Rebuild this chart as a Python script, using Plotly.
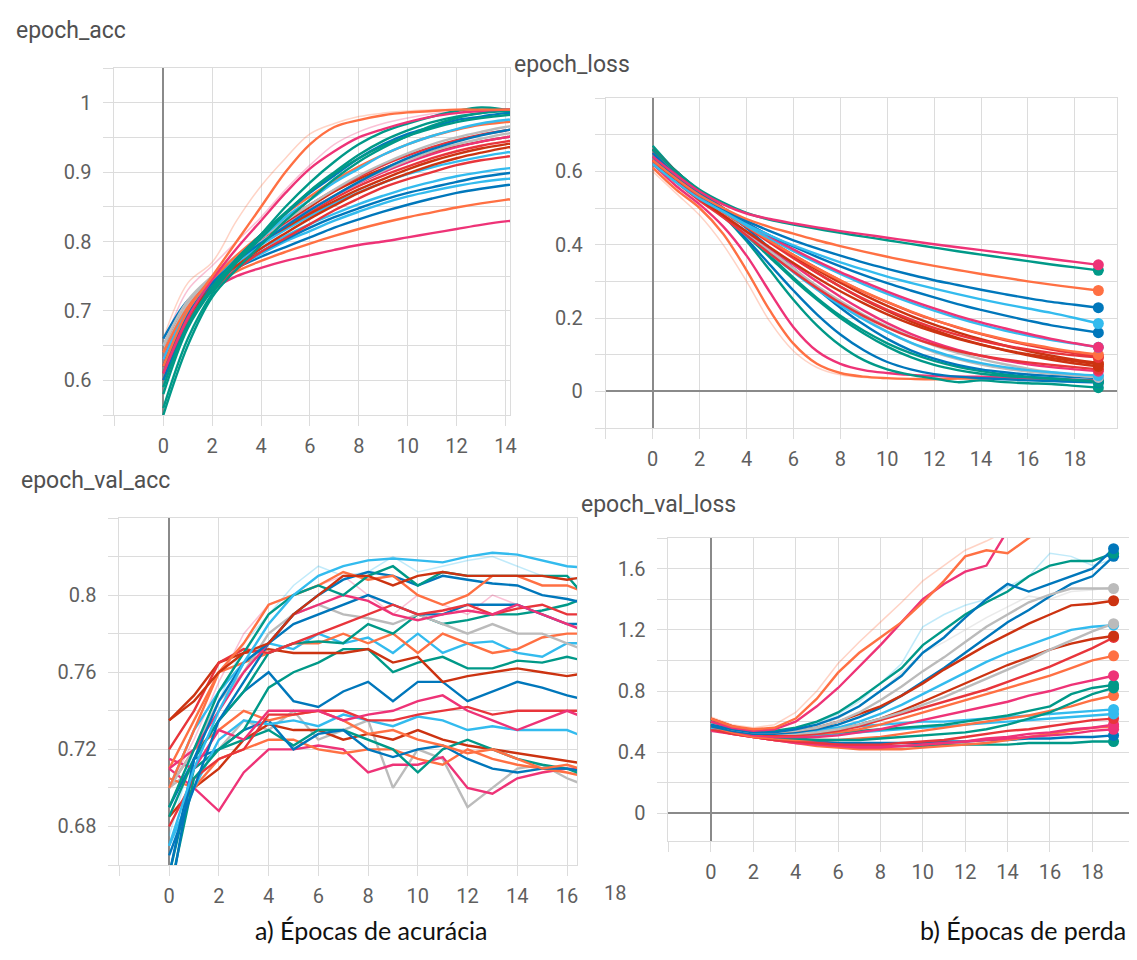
import plotly.graph_objects as go

W, H = 1137, 960

ORANGE = "#ff7043"
BLUE = "#0077bb"
DARKRED = "#cc3311"
LIGHTBLUE = "#33bbee"
PINK = "#ee3377"
TEAL = "#009988"
GRAY = "#bbbbbb"
RED = "#e8353b"
GRID = "#dcdcdc"
ZERO = "#8a8a8a"
TICKC = "#5f5f5f"

# ---------------- epochs ----------------
epochs_acc = [0, 1, 2, 3, 4, 5, 6, 7, 8, 9, 10, 11, 12, 13, 14, 15]
epochs_loss = [0, 1, 2, 3, 4, 5, 6, 7, 8, 9, 10, 11, 12, 13, 14, 15, 16, 17, 18, 19]
epochs_val_acc = [0, 1, 2, 3, 4, 5, 6, 7, 8, 9, 10, 11, 12, 13, 14, 15, 16, 17]
epochs_val_loss = [0, 1, 2, 3, 4, 5, 6, 7, 8, 9, 10, 11, 12, 13, 14, 15, 16, 17, 18, 19]

# ---------------- epoch_acc ----------------
acc_orange_fast = [0.62, 0.70, 0.75, 0.80, 0.85, 0.90, 0.94, 0.965, 0.975, 0.982, 0.986, 0.988, 0.99, 0.99, 0.99, 0.99]
acc_pink_fast = [0.61, 0.69, 0.745, 0.79, 0.83, 0.87, 0.905, 0.93, 0.95, 0.962, 0.972, 0.98, 0.985, 0.988, 0.99, 0.99]
acc_teal_1 = [0.56, 0.66, 0.725, 0.77, 0.81, 0.85, 0.885, 0.915, 0.94, 0.958, 0.97, 0.98, 0.988, 0.993, 0.99, 0.985]
acc_teal_2 = [0.55, 0.65, 0.72, 0.76, 0.795, 0.83, 0.86, 0.89, 0.915, 0.935, 0.952, 0.967, 0.978, 0.985, 0.99, 0.99]
acc_teal_3 = [0.58, 0.675, 0.73, 0.77, 0.805, 0.84, 0.873, 0.90, 0.925, 0.945, 0.96, 0.972, 0.98, 0.985, 0.988, 0.988]
acc_teal_4 = [0.59, 0.68, 0.735, 0.775, 0.81, 0.842, 0.872, 0.898, 0.92, 0.938, 0.952, 0.963, 0.972, 0.978, 0.982, 0.984]
acc_blue_1 = [0.60, 0.68, 0.735, 0.775, 0.81, 0.84, 0.87, 0.895, 0.92, 0.94, 0.955, 0.965, 0.975, 0.98, 0.985, 0.985]
acc_blue_4 = [0.62, 0.695, 0.74, 0.772, 0.798, 0.822, 0.845, 0.866, 0.886, 0.904, 0.92, 0.933, 0.944, 0.953, 0.96, 0.965]
acc_lightblue_1 = [0.63, 0.70, 0.74, 0.775, 0.805, 0.835, 0.86, 0.885, 0.905, 0.925, 0.94, 0.952, 0.962, 0.97, 0.975, 0.978]
acc_orange_3 = [0.64, 0.705, 0.745, 0.78, 0.81, 0.84, 0.865, 0.888, 0.908, 0.925, 0.94, 0.952, 0.961, 0.968, 0.972, 0.975]
acc_gray_1 = [0.64, 0.71, 0.75, 0.78, 0.805, 0.83, 0.853, 0.875, 0.895, 0.912, 0.927, 0.94, 0.95, 0.958, 0.965, 0.97]
acc_gray_2 = [0.65, 0.715, 0.75, 0.778, 0.80, 0.823, 0.845, 0.866, 0.885, 0.902, 0.917, 0.93, 0.94, 0.948, 0.955, 0.96]
acc_red_3 = [0.62, 0.70, 0.745, 0.778, 0.805, 0.83, 0.853, 0.874, 0.893, 0.91, 0.924, 0.936, 0.946, 0.954, 0.96, 0.965]
acc_pink_3 = [0.63, 0.705, 0.745, 0.775, 0.80, 0.824, 0.846, 0.866, 0.884, 0.90, 0.914, 0.926, 0.936, 0.944, 0.95, 0.955]
acc_darkred_1 = [0.62, 0.695, 0.74, 0.772, 0.80, 0.826, 0.85, 0.872, 0.89, 0.905, 0.918, 0.928, 0.937, 0.944, 0.95, 0.955]
acc_darkred_3 = [0.64, 0.71, 0.748, 0.777, 0.80, 0.82, 0.84, 0.858, 0.875, 0.89, 0.904, 0.916, 0.926, 0.934, 0.94, 0.945]
acc_red_1 = [0.63, 0.70, 0.742, 0.775, 0.80, 0.822, 0.842, 0.862, 0.88, 0.895, 0.908, 0.92, 0.93, 0.938, 0.944, 0.95]
acc_darkred_2 = [0.61, 0.69, 0.735, 0.765, 0.79, 0.812, 0.833, 0.852, 0.87, 0.885, 0.898, 0.91, 0.92, 0.928, 0.935, 0.94]
acc_lightblue_3 = [0.61, 0.69, 0.738, 0.77, 0.795, 0.817, 0.837, 0.855, 0.871, 0.885, 0.897, 0.907, 0.915, 0.922, 0.928, 0.932]
acc_red_2 = [0.60, 0.685, 0.73, 0.76, 0.785, 0.805, 0.825, 0.845, 0.862, 0.878, 0.89, 0.90, 0.91, 0.917, 0.922, 0.926]
acc_lightblue_4 = [0.65, 0.712, 0.745, 0.77, 0.79, 0.808, 0.825, 0.84, 0.854, 0.866, 0.877, 0.886, 0.894, 0.90, 0.905, 0.908]
acc_blue_2 = [0.64, 0.70, 0.738, 0.765, 0.785, 0.803, 0.82, 0.835, 0.848, 0.86, 0.87, 0.878, 0.886, 0.893, 0.898, 0.902]
acc_lightblue_2 = [0.62, 0.695, 0.735, 0.762, 0.782, 0.80, 0.815, 0.83, 0.843, 0.855, 0.865, 0.873, 0.88, 0.886, 0.89, 0.893]
acc_blue_3 = [0.66, 0.715, 0.742, 0.762, 0.778, 0.792, 0.806, 0.82, 0.832, 0.843, 0.853, 0.862, 0.87, 0.876, 0.881, 0.885]
acc_orange_2 = [0.63, 0.70, 0.735, 0.757, 0.772, 0.785, 0.797, 0.808, 0.818, 0.827, 0.835, 0.842, 0.849, 0.855, 0.86, 0.864]
acc_pink_low = [0.62, 0.695, 0.73, 0.75, 0.762, 0.772, 0.78, 0.788, 0.795, 0.80, 0.806, 0.812, 0.818, 0.824, 0.829, 0.832]
acc_pale_orange = [0.66, 0.74, 0.77, 0.83, 0.88, 0.92, 0.955, 0.97, 0.98, 0.985, 0.988, 0.99, 0.99, 0.99, 0.99, 0.99]
acc_pale_pink = [0.65, 0.73, 0.765, 0.80, 0.835, 0.875, 0.91, 0.94, 0.958, 0.97, 0.978, 0.984, 0.988, 0.99, 0.99, 0.99]

# ---------------- epoch_loss ----------------
loss_pink_slow = [0.64, 0.59, 0.545, 0.51, 0.485, 0.47, 0.458, 0.447, 0.437, 0.428, 0.419, 0.41, 0.401, 0.393, 0.385, 0.377, 0.369, 0.361, 0.353, 0.345]
loss_teal_slow = [0.66, 0.60, 0.55, 0.515, 0.487, 0.468, 0.455, 0.443, 0.432, 0.422, 0.412, 0.402, 0.392, 0.382, 0.373, 0.364, 0.355, 0.346, 0.338, 0.33]
loss_orange_slow = [0.63, 0.58, 0.535, 0.50, 0.47, 0.448, 0.43, 0.412, 0.396, 0.381, 0.367, 0.354, 0.342, 0.331, 0.32, 0.31, 0.30, 0.291, 0.283, 0.275]
loss_blue_mid = [0.65, 0.59, 0.54, 0.50, 0.465, 0.437, 0.412, 0.39, 0.37, 0.351, 0.334, 0.318, 0.303, 0.29, 0.277, 0.265, 0.254, 0.244, 0.236, 0.228]
loss_lightblue_mid = [0.62, 0.57, 0.525, 0.49, 0.455, 0.425, 0.398, 0.374, 0.352, 0.332, 0.313, 0.296, 0.28, 0.265, 0.251, 0.238, 0.226, 0.214, 0.20, 0.185]
loss_blue_2 = [0.64, 0.585, 0.535, 0.495, 0.458, 0.425, 0.395, 0.367, 0.341, 0.317, 0.295, 0.275, 0.256, 0.238, 0.222, 0.207, 0.193, 0.18, 0.17, 0.16]
loss_pink_2 = [0.65, 0.59, 0.54, 0.50, 0.46, 0.422, 0.387, 0.355, 0.325, 0.298, 0.272, 0.248, 0.226, 0.206, 0.188, 0.172, 0.157, 0.143, 0.131, 0.12]
loss_lightblue_3 = [0.64, 0.585, 0.535, 0.492, 0.452, 0.416, 0.382, 0.35, 0.32, 0.292, 0.266, 0.242, 0.22, 0.20, 0.182, 0.166, 0.152, 0.14, 0.13, 0.12]
loss_orange_3 = [0.64, 0.585, 0.535, 0.49, 0.45, 0.41, 0.372, 0.336, 0.303, 0.272, 0.244, 0.218, 0.195, 0.175, 0.157, 0.142, 0.129, 0.118, 0.108, 0.10]
loss_red_1 = [0.63, 0.58, 0.53, 0.49, 0.45, 0.41, 0.372, 0.336, 0.302, 0.271, 0.243, 0.217, 0.194, 0.174, 0.156, 0.14, 0.126, 0.114, 0.104, 0.095]
loss_red_3 = [0.64, 0.585, 0.535, 0.49, 0.448, 0.405, 0.363, 0.323, 0.286, 0.252, 0.222, 0.196, 0.173, 0.154, 0.138, 0.125, 0.114, 0.105, 0.098, 0.092]
loss_darkred_1 = [0.65, 0.59, 0.54, 0.495, 0.452, 0.41, 0.37, 0.332, 0.296, 0.263, 0.233, 0.206, 0.182, 0.161, 0.142, 0.125, 0.11, 0.097, 0.086, 0.077]
loss_darkred_3 = [0.63, 0.575, 0.525, 0.48, 0.436, 0.392, 0.35, 0.31, 0.273, 0.24, 0.21, 0.184, 0.162, 0.143, 0.127, 0.113, 0.101, 0.091, 0.082, 0.074]
loss_darkred_2 = [0.66, 0.60, 0.545, 0.50, 0.455, 0.41, 0.366, 0.324, 0.285, 0.25, 0.219, 0.191, 0.167, 0.146, 0.128, 0.112, 0.098, 0.086, 0.076, 0.068]
loss_red_2 = [0.62, 0.57, 0.52, 0.475, 0.425, 0.375, 0.327, 0.282, 0.241, 0.205, 0.174, 0.148, 0.127, 0.11, 0.097, 0.087, 0.079, 0.072, 0.066, 0.06]
loss_pink_3 = [0.63, 0.575, 0.525, 0.48, 0.435, 0.39, 0.345, 0.30, 0.258, 0.22, 0.186, 0.157, 0.133, 0.113, 0.097, 0.084, 0.074, 0.066, 0.06, 0.055]
loss_lightblue_2 = [0.63, 0.575, 0.525, 0.475, 0.425, 0.375, 0.325, 0.278, 0.235, 0.196, 0.162, 0.133, 0.11, 0.091, 0.077, 0.066, 0.058, 0.052, 0.047, 0.043]
loss_gray = [0.64, 0.58, 0.525, 0.48, 0.43, 0.38, 0.332, 0.287, 0.246, 0.209, 0.177, 0.149, 0.125, 0.105, 0.088, 0.074, 0.062, 0.052, 0.044, 0.038]
loss_gray_2 = [0.65, 0.59, 0.535, 0.485, 0.435, 0.385, 0.335, 0.287, 0.242, 0.20, 0.163, 0.132, 0.107, 0.088, 0.073, 0.062, 0.054, 0.048, 0.043, 0.04]
loss_blue_3 = [0.66, 0.60, 0.545, 0.495, 0.445, 0.39, 0.335, 0.28, 0.228, 0.182, 0.143, 0.112, 0.089, 0.072, 0.06, 0.052, 0.046, 0.042, 0.039, 0.036]
loss_teal_2 = [0.65, 0.59, 0.535, 0.48, 0.425, 0.365, 0.305, 0.25, 0.20, 0.158, 0.122, 0.093, 0.072, 0.058, 0.048, 0.042, 0.038, 0.035, 0.031, 0.028]
loss_teal_3 = [0.66, 0.60, 0.545, 0.49, 0.43, 0.37, 0.31, 0.255, 0.206, 0.165, 0.131, 0.104, 0.083, 0.067, 0.055, 0.046, 0.04, 0.035, 0.03, 0.025]
loss_blue_fast = [0.66, 0.60, 0.54, 0.48, 0.415, 0.345, 0.275, 0.21, 0.155, 0.112, 0.08, 0.06, 0.047, 0.04, 0.036, 0.033, 0.03, 0.028, 0.026, 0.024]
loss_teal_fast = [0.67, 0.60, 0.54, 0.48, 0.41, 0.33, 0.25, 0.18, 0.125, 0.085, 0.06, 0.045, 0.035, 0.025, 0.03, 0.025, 0.022, 0.02, 0.015, 0.01]
loss_pink_fast = [0.62, 0.56, 0.51, 0.45, 0.37, 0.27, 0.175, 0.11, 0.075, 0.058, 0.05, 0.045, 0.042, 0.04, 0.04, 0.038, 0.036, 0.034, 0.032, 0.03]
loss_orange_fast = [0.61, 0.55, 0.50, 0.43, 0.33, 0.22, 0.13, 0.075, 0.05, 0.04, 0.036, 0.034, 0.033, 0.035, 0.035, 0.034, 0.032, 0.03, 0.028, 0.025]
loss_pale_orange = [0.60, 0.54, 0.48, 0.40, 0.30, 0.19, 0.11, 0.065, 0.045, 0.038, 0.035, 0.034, 0.034, 0.035, 0.034, 0.033, 0.031, 0.03, 0.028, 0.026]

# ---------------- epoch_val_acc ----------------
vacc_lightblue_top = [0.67, 0.71, 0.74, 0.765, 0.785, 0.80, 0.81, 0.815, 0.818, 0.819, 0.818, 0.817, 0.82, 0.822, 0.821, 0.818, 0.815, 0.814]
vacc_red_top = [0.735, 0.745, 0.76, 0.77, 0.775, 0.79, 0.80, 0.81, 0.81, 0.805, 0.81, 0.812, 0.81, 0.81, 0.81, 0.81, 0.808, 0.81]
vacc_teal_top = [0.69, 0.72, 0.75, 0.77, 0.79, 0.80, 0.805, 0.80, 0.81, 0.815, 0.805, 0.812, 0.81, 0.81, 0.81, 0.81, 0.81, 0.795]
vacc_orange_top = [0.70, 0.73, 0.76, 0.775, 0.795, 0.80, 0.805, 0.812, 0.808, 0.81, 0.80, 0.795, 0.80, 0.81, 0.81, 0.805, 0.805, 0.80]
vacc_blue_top2 = [0.655, 0.715, 0.745, 0.765, 0.775, 0.79, 0.80, 0.808, 0.812, 0.81, 0.805, 0.81, 0.808, 0.806, 0.805, 0.80, 0.798, 0.795]
vacc_pink_mid = [0.71, 0.72, 0.74, 0.76, 0.775, 0.79, 0.795, 0.80, 0.797, 0.79, 0.787, 0.79, 0.792, 0.79, 0.795, 0.79, 0.785, 0.78]
vacc_red_mid = [0.72, 0.74, 0.765, 0.772, 0.77, 0.775, 0.78, 0.785, 0.79, 0.795, 0.79, 0.792, 0.795, 0.79, 0.793, 0.795, 0.79, 0.79]
vacc_blue_mid = [0.665, 0.70, 0.735, 0.755, 0.775, 0.785, 0.79, 0.795, 0.80, 0.795, 0.79, 0.79, 0.795, 0.795, 0.795, 0.79, 0.785, 0.785]
vacc_gray_mid = [0.70, 0.72, 0.745, 0.76, 0.78, 0.79, 0.795, 0.79, 0.788, 0.785, 0.79, 0.785, 0.78, 0.785, 0.78, 0.78, 0.775, 0.77]
vacc_darkred_mid = [0.735, 0.748, 0.765, 0.77, 0.772, 0.77, 0.77, 0.77, 0.772, 0.765, 0.768, 0.755, 0.758, 0.76, 0.762, 0.76, 0.758, 0.76]
vacc_teal_mid = [0.685, 0.715, 0.735, 0.75, 0.77, 0.775, 0.776, 0.775, 0.785, 0.78, 0.79, 0.785, 0.787, 0.79, 0.79, 0.792, 0.795, 0.80]
vacc_orange_mid = [0.71, 0.735, 0.76, 0.765, 0.77, 0.775, 0.775, 0.78, 0.775, 0.78, 0.77, 0.78, 0.775, 0.77, 0.772, 0.778, 0.78, 0.78]
vacc_lightblue_mid = [0.70, 0.73, 0.75, 0.765, 0.775, 0.772, 0.78, 0.775, 0.778, 0.77, 0.78, 0.77, 0.775, 0.776, 0.77, 0.768, 0.775, 0.775]
vacc_blue_lowmid = [0.64, 0.715, 0.735, 0.75, 0.76, 0.745, 0.742, 0.75, 0.755, 0.745, 0.755, 0.755, 0.745, 0.75, 0.755, 0.752, 0.748, 0.745]
vacc_teal_lowmid = [0.645, 0.705, 0.72, 0.73, 0.752, 0.76, 0.765, 0.772, 0.772, 0.76, 0.765, 0.768, 0.762, 0.762, 0.766, 0.765, 0.768, 0.765]
vacc_pink_low = [0.715, 0.71, 0.73, 0.725, 0.74, 0.74, 0.74, 0.735, 0.738, 0.74, 0.745, 0.748, 0.74, 0.735, 0.73, 0.735, 0.74, 0.735]
vacc_red_low = [0.68, 0.705, 0.715, 0.72, 0.738, 0.738, 0.74, 0.74, 0.735, 0.735, 0.738, 0.74, 0.742, 0.738, 0.74, 0.74, 0.74, 0.74]
vacc_lightblue_low = [0.67, 0.70, 0.725, 0.735, 0.733, 0.735, 0.732, 0.738, 0.735, 0.732, 0.737, 0.735, 0.73, 0.732, 0.73, 0.73, 0.73, 0.725]
vacc_orange_low2 = [0.70, 0.72, 0.73, 0.74, 0.735, 0.738, 0.74, 0.735, 0.728, 0.73, 0.725, 0.722, 0.718, 0.72, 0.715, 0.71, 0.712, 0.708]
vacc_blue_low = [0.69, 0.715, 0.72, 0.73, 0.735, 0.72, 0.728, 0.73, 0.72, 0.716, 0.72, 0.722, 0.715, 0.71, 0.708, 0.71, 0.71, 0.708]
vacc_teal_low = [0.655, 0.71, 0.72, 0.725, 0.73, 0.722, 0.73, 0.73, 0.725, 0.72, 0.708, 0.72, 0.725, 0.72, 0.715, 0.712, 0.71, 0.705]
vacc_orange_low = [0.705, 0.70, 0.715, 0.72, 0.725, 0.725, 0.72, 0.718, 0.72, 0.72, 0.715, 0.712, 0.72, 0.715, 0.712, 0.71, 0.708, 0.705]
vacc_pink_bottom = [0.71, 0.70, 0.688, 0.708, 0.72, 0.72, 0.722, 0.72, 0.708, 0.712, 0.712, 0.716, 0.70, 0.697, 0.705, 0.708, 0.71, 0.71]
vacc_darkred_low = [0.685, 0.70, 0.71, 0.725, 0.733, 0.73, 0.73, 0.725, 0.728, 0.725, 0.73, 0.725, 0.722, 0.72, 0.718, 0.716, 0.714, 0.712]
vacc_pale_pink = [0.70, 0.725, 0.755, 0.78, 0.795, 0.80, 0.805, 0.81, 0.80, 0.79, 0.80, 0.795, 0.79, 0.80, 0.795, 0.79, 0.785, 0.78]
vacc_pale_lightblue = [0.675, 0.72, 0.745, 0.775, 0.79, 0.805, 0.815, 0.81, 0.812, 0.82, 0.812, 0.815, 0.818, 0.82, 0.815, 0.81, 0.81, 0.805]
vacc_pale_gray = [0.70, 0.71, 0.72, 0.735, 0.73, 0.74, 0.725, 0.73, 0.735, 0.70, 0.72, 0.715, 0.69, 0.70, 0.71, 0.712, 0.705, 0.70]

# ---------------- epoch_val_loss ----------------
vloss_orange_steep = [0.62, 0.57, 0.55, 0.56, 0.62, 0.75, 0.92, 1.05, 1.15, 1.25, 1.38, 1.52, 1.68, 1.72, 1.70, 1.80, 1.90, 2.00, 2.10, 2.20]
vloss_pink_steep = [0.60, 0.56, 0.54, 0.55, 0.60, 0.70, 0.82, 0.96, 1.10, 1.25, 1.40, 1.50, 1.58, 1.62, 1.85, 2.00, 2.10, 2.20, 2.30, 2.40]
vloss_blue_up1 = [0.58, 0.55, 0.53, 0.53, 0.55, 0.58, 0.63, 0.70, 0.80, 0.90, 1.05, 1.15, 1.28, 1.40, 1.50, 1.45, 1.50, 1.55, 1.60, 1.73]
vloss_teal_up1 = [0.60, 0.56, 0.54, 0.54, 0.56, 0.60, 0.66, 0.75, 0.85, 0.95, 1.10, 1.20, 1.30, 1.38, 1.45, 1.55, 1.62, 1.65, 1.65, 1.70]
vloss_gray_up = [0.59, 0.55, 0.53, 0.53, 0.54, 0.56, 0.60, 0.66, 0.74, 0.83, 0.93, 1.02, 1.12, 1.22, 1.30, 1.38, 1.43, 1.47, 1.47, 1.47]
vloss_darkred_up1 = [0.62, 0.57, 0.54, 0.53, 0.54, 0.56, 0.60, 0.65, 0.70, 0.77, 0.85, 0.94, 1.02, 1.10, 1.17, 1.24, 1.30, 1.36, 1.37, 1.39]
vloss_blue_up2 = [0.57, 0.54, 0.52, 0.52, 0.53, 0.55, 0.58, 0.63, 0.69, 0.77, 0.86, 0.95, 1.05, 1.15, 1.25, 1.33, 1.42, 1.50, 1.55, 1.68]
vloss_gray_mid = [0.59, 0.55, 0.53, 0.52, 0.52, 0.53, 0.55, 0.58, 0.62, 0.66, 0.71, 0.76, 0.82, 0.88, 0.94, 1.00, 1.07, 1.13, 1.19, 1.24]
vloss_lightblue_up = [0.58, 0.55, 0.53, 0.52, 0.53, 0.54, 0.56, 0.60, 0.65, 0.71, 0.78, 0.85, 0.92, 0.99, 1.05, 1.10, 1.15, 1.20, 1.22, 1.23]
vloss_darkred_up2 = [0.60, 0.56, 0.53, 0.52, 0.52, 0.53, 0.55, 0.58, 0.62, 0.67, 0.73, 0.79, 0.85, 0.91, 0.97, 1.02, 1.07, 1.11, 1.14, 1.16]
vloss_red_mid = [0.58, 0.54, 0.52, 0.51, 0.51, 0.52, 0.54, 0.57, 0.61, 0.65, 0.69, 0.73, 0.77, 0.81, 0.86, 0.91, 0.96, 1.02, 1.08, 1.15]
vloss_orange_up = [0.57, 0.54, 0.52, 0.51, 0.51, 0.52, 0.53, 0.55, 0.58, 0.62, 0.66, 0.70, 0.74, 0.78, 0.82, 0.86, 0.90, 0.95, 1.00, 1.03]
vloss_pink_up = [0.58, 0.54, 0.51, 0.50, 0.50, 0.50, 0.51, 0.53, 0.55, 0.58, 0.61, 0.64, 0.67, 0.70, 0.73, 0.77, 0.80, 0.84, 0.87, 0.90]
vloss_teal_up3 = [0.60, 0.56, 0.53, 0.52, 0.52, 0.52, 0.53, 0.54, 0.55, 0.56, 0.57, 0.58, 0.60, 0.62, 0.64, 0.67, 0.70, 0.78, 0.82, 0.84]
vloss_teal_mid = [0.59, 0.55, 0.52, 0.50, 0.49, 0.48, 0.48, 0.48, 0.49, 0.50, 0.51, 0.52, 0.53, 0.55, 0.58, 0.62, 0.66, 0.72, 0.78, 0.82]
vloss_orange_up2 = [0.57, 0.53, 0.50, 0.49, 0.48, 0.48, 0.48, 0.49, 0.50, 0.52, 0.54, 0.56, 0.58, 0.60, 0.62, 0.64, 0.67, 0.70, 0.74, 0.77]
vloss_lightblue_flat = [0.56, 0.55, 0.54, 0.54, 0.54, 0.55, 0.56, 0.57, 0.58, 0.59, 0.60, 0.60, 0.61, 0.62, 0.63, 0.64, 0.65, 0.66, 0.67, 0.68]
vloss_lightblue_mid = [0.57, 0.54, 0.52, 0.51, 0.51, 0.51, 0.52, 0.53, 0.54, 0.55, 0.56, 0.57, 0.58, 0.59, 0.60, 0.61, 0.62, 0.63, 0.64, 0.65]
vloss_red_flat = [0.55, 0.52, 0.50, 0.48, 0.47, 0.46, 0.45, 0.45, 0.45, 0.46, 0.47, 0.48, 0.50, 0.52, 0.54, 0.55, 0.57, 0.59, 0.61, 0.62]
vloss_pink_flat = [0.54, 0.52, 0.50, 0.48, 0.46, 0.45, 0.44, 0.43, 0.43, 0.44, 0.45, 0.46, 0.47, 0.49, 0.50, 0.52, 0.53, 0.55, 0.56, 0.58]
vloss_pink_flat2 = [0.55, 0.52, 0.50, 0.48, 0.47, 0.46, 0.45, 0.44, 0.44, 0.44, 0.45, 0.46, 0.47, 0.48, 0.49, 0.50, 0.51, 0.52, 0.54, 0.55]
vloss_orange_flat = [0.56, 0.53, 0.50, 0.48, 0.46, 0.44, 0.43, 0.42, 0.42, 0.42, 0.43, 0.44, 0.45, 0.46, 0.48, 0.50, 0.52, 0.54, 0.56, 0.57]
vloss_blue_flat = [0.56, 0.53, 0.51, 0.49, 0.48, 0.47, 0.46, 0.46, 0.46, 0.46, 0.46, 0.47, 0.47, 0.48, 0.48, 0.49, 0.49, 0.50, 0.50, 0.51]
vloss_teal_flat = [0.57, 0.54, 0.51, 0.49, 0.47, 0.46, 0.45, 0.45, 0.44, 0.44, 0.44, 0.45, 0.45, 0.45, 0.45, 0.46, 0.46, 0.46, 0.47, 0.47]
vloss_pale_orange = [0.63, 0.58, 0.56, 0.58, 0.66, 0.80, 0.98, 1.12, 1.25, 1.38, 1.52, 1.62, 1.72, 1.78, 1.85, 1.95, 2.05, 2.10, 2.20, 2.30]
vloss_pale_lightblue = [0.58, 0.55, 0.53, 0.53, 0.55, 0.59, 0.65, 0.73, 0.85, 0.98, 1.22, 1.30, 1.36, 1.40, 1.48, 1.55, 1.70, 1.68, 1.62, 1.66]
vloss_pale_gray = [0.60, 0.56, 0.54, 0.53, 0.54, 0.57, 0.62, 0.70, 0.80, 0.92, 1.05, 1.12, 1.20, 1.28, 1.35, 1.42, 1.40, 1.45, 1.46, 1.48]

# ---------------- series lists (data, colour) ----------------
ACC = [
    (acc_pink_low, PINK), (acc_orange_2, ORANGE), (acc_blue_3, BLUE), (acc_lightblue_2, LIGHTBLUE),
    (acc_blue_2, BLUE), (acc_lightblue_4, LIGHTBLUE), (acc_red_2, RED), (acc_lightblue_3, LIGHTBLUE),
    (acc_darkred_2, DARKRED), (acc_red_1, RED), (acc_darkred_3, DARKRED), (acc_darkred_1, DARKRED),
    (acc_pink_3, PINK), (acc_red_3, RED), (acc_gray_2, GRAY), (acc_gray_1, GRAY),
    (acc_orange_3, ORANGE), (acc_lightblue_1, LIGHTBLUE), (acc_blue_4, BLUE), (acc_blue_1, BLUE),
    (acc_teal_4, TEAL), (acc_teal_3, TEAL), (acc_teal_2, TEAL), (acc_teal_1, TEAL),
    (acc_pink_fast, PINK), (acc_orange_fast, ORANGE),
]
ACC_FAINT = [(acc_pale_orange, ORANGE), (acc_pale_pink, PINK)]

LOSS = [
    (loss_orange_fast, ORANGE), (loss_pink_fast, PINK), (loss_teal_fast, TEAL), (loss_blue_fast, BLUE),
    (loss_teal_3, TEAL), (loss_teal_2, TEAL), (loss_blue_3, BLUE), (loss_gray_2, GRAY),
    (loss_gray, GRAY), (loss_lightblue_2, LIGHTBLUE), (loss_pink_3, PINK), (loss_red_2, RED),
    (loss_darkred_2, DARKRED), (loss_darkred_3, DARKRED), (loss_darkred_1, DARKRED), (loss_red_3, RED),
    (loss_red_1, RED), (loss_orange_3, ORANGE), (loss_lightblue_3, LIGHTBLUE), (loss_pink_2, PINK),
    (loss_blue_2, BLUE), (loss_lightblue_mid, LIGHTBLUE), (loss_blue_mid, BLUE), (loss_orange_slow, ORANGE),
    (loss_teal_slow, TEAL), (loss_pink_slow, PINK),
]
LOSS_FAINT = [(loss_pale_orange, ORANGE)]

VACC = [
    (vacc_pale_gray, GRAY), (vacc_darkred_low, DARKRED), (vacc_pink_bottom, PINK), (vacc_orange_low, ORANGE),
    (vacc_teal_low, TEAL), (vacc_blue_low, BLUE), (vacc_orange_low2, ORANGE), (vacc_lightblue_low, LIGHTBLUE),
    (vacc_red_low, RED), (vacc_pink_low, PINK), (vacc_teal_lowmid, TEAL), (vacc_blue_lowmid, BLUE),
    (vacc_lightblue_mid, LIGHTBLUE), (vacc_orange_mid, ORANGE), (vacc_teal_mid, TEAL), (vacc_darkred_mid, DARKRED),
    (vacc_gray_mid, GRAY), (vacc_blue_mid, BLUE), (vacc_red_mid, RED), (vacc_pink_mid, PINK),
    (vacc_blue_top2, BLUE), (vacc_orange_top, ORANGE), (vacc_teal_top, TEAL), (vacc_red_top, DARKRED),
    (vacc_lightblue_top, LIGHTBLUE),
]
VACC_FAINT = [(vacc_pale_pink, PINK), (vacc_pale_lightblue, LIGHTBLUE)]

VLOSS = [
    (vloss_teal_flat, TEAL), (vloss_blue_flat, BLUE), (vloss_orange_flat, ORANGE), (vloss_pink_flat2, PINK),
    (vloss_pink_flat, PINK), (vloss_red_flat, RED), (vloss_lightblue_mid, LIGHTBLUE), (vloss_lightblue_flat, LIGHTBLUE),
    (vloss_orange_up2, ORANGE), (vloss_teal_mid, TEAL), (vloss_teal_up3, TEAL), (vloss_pink_up, PINK),
    (vloss_orange_up, ORANGE), (vloss_red_mid, RED), (vloss_darkred_up2, DARKRED), (vloss_lightblue_up, LIGHTBLUE),
    (vloss_gray_mid, GRAY), (vloss_blue_up2, BLUE), (vloss_darkred_up1, DARKRED), (vloss_gray_up, GRAY),
    (vloss_teal_up1, TEAL), (vloss_blue_up1, BLUE), (vloss_pink_steep, PINK), (vloss_orange_steep, ORANGE),
]
VLOSS_FAINT = [(vloss_pale_orange, ORANGE), (vloss_pale_lightblue, LIGHTBLUE), (vloss_pale_gray, GRAY)]

# ---------------- axis ticks ----------------
acc_x_ticks = [-2, 0, 2, 4, 6, 8, 10, 12, 14]
acc_x_text = ["", "0", "2", "4", "6", "8", "10", "12", "14"]
acc_y_ticks = [0.55, 0.6, 0.65, 0.7, 0.75, 0.8, 0.85, 0.9, 0.95, 1.0, 1.05]
acc_y_text = ["", "0.6", "", "0.7", "", "0.8", "", "0.9", "", "1", ""]

loss_x_ticks = [-2, 0, 2, 4, 6, 8, 10, 12, 14, 16, 18]
loss_x_text = ["", "0", "2", "4", "6", "8", "10", "12", "14", "16", "18"]
loss_y_ticks = [-0.1, 0, 0.1, 0.2, 0.3, 0.4, 0.5, 0.6, 0.7, 0.8]
loss_y_text = ["", "0", "", "0.2", "", "0.4", "", "0.6", "", ""]

vacc_x_ticks = [-2, 0, 2, 4, 6, 8, 10, 12, 14, 16]
vacc_x_text = ["", "0", "2", "4", "6", "8", "10", "12", "14", "16"]
vacc_y_ticks = [0.66, 0.68, 0.70, 0.72, 0.74, 0.76, 0.78, 0.80, 0.82, 0.84]
vacc_y_text = ["", "0.68", "", "0.72", "", "0.76", "", "0.8", "", ""]

vloss_x_ticks = [-2, 0, 2, 4, 6, 8, 10, 12, 14, 16, 18, 20]
vloss_x_text = ["", "0", "2", "4", "6", "8", "10", "12", "14", "16", "18", ""]
vloss_y_ticks = [0, 0.2, 0.4, 0.6, 0.8, 1.0, 1.2, 1.4, 1.6, 1.8]
vloss_y_text = ["0", "", "0.4", "", "0.8", "", "1.2", "", "1.6", ""]

# ---------------- layout helpers ----------------
def dom_x(left, right):
    return [left / W, right / W]


def dom_y(top, bottom):
    return [1 - bottom / H, 1 - top / H]


TICK_FONT = dict(family="Roboto, Arial, sans-serif", size=20, color=TICKC)


def make_axis(domain, rng, tickvals, ticktext, anchor, zeroline, standoff):
    return dict(
        domain=domain, range=rng, anchor=anchor,
        tickmode="array", tickvals=tickvals, ticktext=ticktext,
        showgrid=True, gridcolor=GRID, gridwidth=1,
        ticks="outside", ticklen=10, tickcolor=GRID, tickwidth=1,
        showline=True, linecolor=GRID, linewidth=1, mirror=True,
        zeroline=zeroline, zerolinecolor=ZERO, zerolinewidth=1.5,
        tickfont=TICK_FONT, ticklabelstandoff=standoff,
        fixedrange=True,
    )


fig = go.Figure()


def add_panel(series, faint, epochs, xa, ya, shape, markers):
    for data, color in faint:
        fig.add_trace(go.Scatter(
            x=epochs, y=data, mode="lines", xaxis=xa, yaxis=ya,
            line=dict(color=color, width=1.5, shape=shape), opacity=0.3,
            hoverinfo="skip", showlegend=False))
    for data, color in series:
        fig.add_trace(go.Scatter(
            x=epochs, y=data, mode="lines", xaxis=xa, yaxis=ya,
            line=dict(color=color, width=2.4, shape=shape),
            hoverinfo="skip", showlegend=False))
    if markers:
        for data, color in series:
            fig.add_trace(go.Scatter(
                x=[epochs[-1]], y=[data[-1]], mode="markers", xaxis=xa, yaxis=ya,
                marker=dict(color=color, size=11), cliponaxis=True,
                hoverinfo="skip", showlegend=False))


add_panel(ACC, ACC_FAINT, epochs_acc, "x", "y", "spline", False)
add_panel(LOSS, LOSS_FAINT, epochs_loss, "x2", "y2", "spline", True)
add_panel(VACC, VACC_FAINT, epochs_val_acc, "x3", "y3", "linear", False)
add_panel(VLOSS, VLOSS_FAINT, epochs_val_loss, "x4", "y4", "linear", True)

fig.update_layout(
    width=W, height=H, autosize=False,
    margin=dict(l=0, r=0, t=0, b=0),
    paper_bgcolor="white", plot_bgcolor="white",
    showlegend=False,
    xaxis=make_axis(dom_x(107, 505), [-2, 14.2], acc_x_ticks, acc_x_text, "y", True, 3),
    yaxis=make_axis(dom_y(60, 407), [0.55, 1.05], acc_y_ticks, acc_y_text, "x", False, 8),
    xaxis2=make_axis(dom_x(601, 1115), [-2, 19.8], loss_x_ticks, loss_x_text, "y2", True, 3),
    yaxis2=make_axis(dom_y(90, 420), [-0.1, 0.8], loss_y_ticks, loss_y_text, "x2", True, 8),
    xaxis3=make_axis(dom_x(112, 572), [-2, 16.4], vacc_x_ticks, vacc_x_text, "y3", True, 3),
    yaxis3=make_axis(dom_y(510, 857), [0.66, 0.84], vacc_y_ticks, vacc_y_text, "x3", False, 8),
    xaxis4=make_axis(dom_x(664, 1137), [-2, 20.2], vloss_x_ticks, vloss_x_text, "y4", True, 3),
    yaxis4=make_axis(dom_y(530, 833), [-0.18, 1.8], vloss_y_ticks, vloss_y_text, "x4", True, 8),
)

TITLE_FONT = dict(family="Roboto, Arial, sans-serif", size=23, color="#505050")
CAP_FONT = dict(family="Lato, Open Sans, sans-serif", size=25, color="#111111")


def paper_text(text, px, py, font, xanchor="left"):
    fig.add_annotation(text=text, x=px / W, y=1 - py / H, xref="paper", yref="paper",
                       xanchor=xanchor, yanchor="middle", showarrow=False, font=font)


paper_text("epoch_acc", 6, 23, TITLE_FONT)
paper_text("epoch_loss", 507, 56, TITLE_FONT)
paper_text("epoch_val_acc", 11, 472, TITLE_FONT)
paper_text("epoch_val_loss", 574, 496, TITLE_FONT)
paper_text("18", 610, 885, TICK_FONT, "center")
paper_text("a) Épocas de acurácia", 365, 922, CAP_FONT, "center")
paper_text("b) Épocas de perda", 1020, 922, CAP_FONT, "center")

fig.write_html("out.html")
